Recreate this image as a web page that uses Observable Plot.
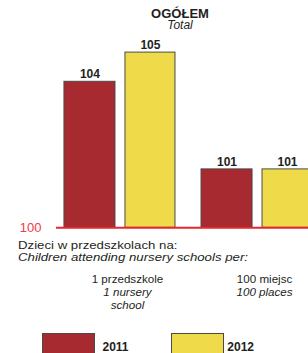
<!DOCTYPE html>
<html><head><meta charset="utf-8">
<script src="https://cdn.jsdelivr.net/npm/d3@7"></script>
<script src="https://cdn.jsdelivr.net/npm/@observablehq/plot@0.6"></script>
<style>
html,body{margin:0;padding:0;background:#fff;overflow:hidden;}
#wrap{position:relative;width:308px;height:353px;overflow:hidden;font-family:"Liberation Sans",Arial,sans-serif;color:#231f20;}
#wrap svg{position:absolute;left:0;top:0;max-width:none !important;}
.abs{position:absolute;white-space:nowrap;}
</style></head><body><div id="wrap"></div>
<script>
// ---- data ----
const groupsPl = ["1 przedszkole", "100 miejsc"];
const groupsEn = ["1 nursery\nschool", "100 places"];
const years = ["2011", "2012"];
const values2011 = [104, 101];
const values2012 = [105, 101];
const yearColors = ["#a62a30", "#efdb4a"];
const baseValue = 99;      // visual base of the bars in the reference
const baseLabel = "100";   // label printed at the base line
const titlePl = "OGÓŁEM";
const titleEn = "Total";
const notePl = "Dzieci w przedszkolach na:";
const noteEn = "Children attending nursery schools per:";

const rows = groupsPl.flatMap((g, i) =>
  years.map((yr, j) => ({group: g, year: yr, value: [values2011, values2012][j][i]})));

const wrap = document.getElementById("wrap");
const s = 1.14; // horizontal stretch of regular text in the reference

const plot = Plot.plot({
  width: 328, height: 353,
  marginLeft: 56, marginRight: 8, marginTop: 37.5, marginBottom: 125.7,
  style: {fontFamily: "Liberation Sans, Arial, sans-serif", color: "#231f20", background: "transparent", overflow: "visible", maxWidth: "none"},
  x: {domain: groupsPl, paddingInner: 0.19, paddingOuter: 0.058, round: false, axis: null},
  y: {domain: [baseValue, 105.5], axis: null},
  color: {domain: years, range: yearColors},
  marks: [
    Plot.barY(rows.filter(d => d.year === years[0]), {x: "group", y1: baseValue, y2: "value", fill: "year", stroke: "#4a4a4a", strokeWidth: 1, insetRight: 60}),
    Plot.barY(rows.filter(d => d.year === years[1]), {x: "group", y1: baseValue, y2: "value", fill: "year", stroke: "#4a4a4a", strokeWidth: 1, insetLeft: 61}),
    Plot.ruleY([baseValue], {stroke: "#e8262e", strokeWidth: 2}),
    Plot.text([baseValue], {y: d => d, text: () => baseLabel, frameAnchor: "left", textAnchor: "end", dx: -15, fill: "#ef3a44", fontSize: 13}),
    Plot.text(rows.filter(d => d.year === years[0]), {x: "group", y: "value", text: d => String(d.value), dx: -30, dy: -3.5, lineAnchor: "bottom", fontWeight: "bold", fontSize: 12, fill: "#231f20"}),
    Plot.text(rows.filter(d => d.year === years[1]), {x: "group", y: "value", text: d => String(d.value), dx: 30.5, dy: -3.5, lineAnchor: "bottom", fontWeight: "bold", fontSize: 12, fill: "#231f20"}),
    Plot.text(groupsPl, {x: d => d, text: d => d, frameAnchor: "bottom", lineAnchor: "bottom", dy: 55, dx: 7.5, fontSize: 11.6, fill: "#231f20", ariaLabel: "category-pl"}),
    Plot.text(groupsPl, {x: d => d, text: (d, i) => groupsEn[i], frameAnchor: "bottom", lineAnchor: "top", dy: 58.8, dx: 7.5, fontSize: 11.6, fontStyle: "italic", lineHeight: 1.12, fill: "#231f20", ariaLabel: "category-en"})
  ]
});
plot.style.maxWidth = "none";

plot.querySelectorAll('[aria-label^="category"] text').forEach(t => {
  const tr = t.getAttribute("transform");
  if (tr) t.setAttribute("transform", tr + ` scale(${s},1)`);
  else {
    const x = +t.getAttribute("x") || 0, y = +t.getAttribute("y") || 0;
    t.setAttribute("transform", `translate(${x},${y}) scale(${s},1) translate(${-x},${-y})`);
  }
});
wrap.appendChild(plot);

function addDiv(text, css) {
  const d = document.createElement("div");
  d.className = "abs";
  d.textContent = text;
  Object.assign(d.style, css);
  wrap.appendChild(d);
  return d;
}
// title
addDiv(titlePl, {left: "80px", width: "200px", textAlign: "center", top: "8.8px", fontSize: "13px", lineHeight: "10px", fontWeight: "bold"});
addDiv(titleEn, {left: "80px", width: "200px", textAlign: "center", top: "21.4px", fontSize: "12px", lineHeight: "9px", fontStyle: "italic"});
// note
const note = addDiv("", {left: "18px", top: "239.3px", fontSize: "11.6px", lineHeight: "11.5px", transform: `scaleX(${s})`, transformOrigin: "0 0"});
const l1 = document.createElement("div"); l1.textContent = notePl;
const l2 = document.createElement("div"); l2.textContent = noteEn; l2.style.fontStyle = "italic";
note.append(l1, l2);
// legend
const legendX = [42, 171], legendTextX = [102.5, 227.3];
years.forEach((yr, i) => {
  addDiv("", {left: legendX[i] + "px", top: "333px", width: "53px", height: "30px", background: yearColors[i], border: "1px solid #4a4a4a", boxSizing: "border-box"});
  addDiv(yr, {left: legendTextX[i] + "px", top: "340.8px", fontSize: "12px", lineHeight: "12px", fontWeight: "bold"});
});
</script></body></html>
